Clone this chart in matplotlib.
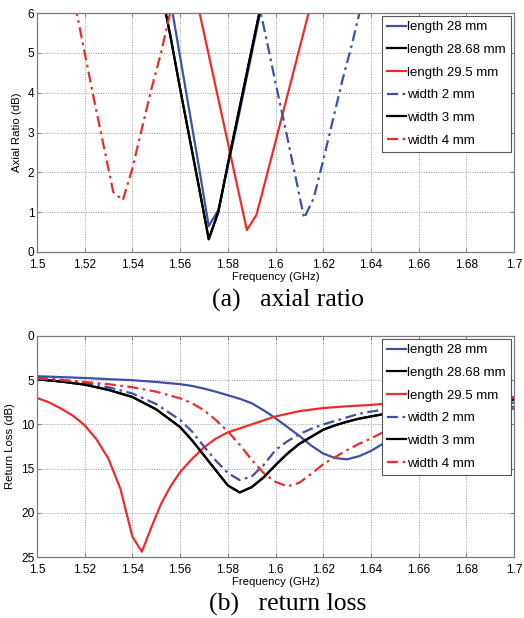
import matplotlib
matplotlib.use("Agg")
import matplotlib.pyplot as plt

# ---------------- data: axial ratio ----------------
ar_f_len28 = [1.556, 1.560, 1.564, 1.568, 1.572, 1.576, 1.580, 1.584, 1.588, 1.592, 1.596]
ar_len28 = [6.3, 4.9, 3.5, 2.1, 0.65, 1.05, 2.15, 3.25, 4.4, 5.55, 6.7]

ar_f_len2868 = [1.552, 1.556, 1.560, 1.564, 1.568, 1.572, 1.576, 1.580, 1.584, 1.588, 1.592, 1.596]
ar_len2868 = [6.6, 5.4, 4.1, 2.85, 1.6, 0.32, 1.0, 2.2, 3.35, 4.5, 5.65, 6.8]

ar_f_len295 = [1.568, 1.572, 1.576, 1.580, 1.584, 1.588, 1.592, 1.596, 1.600, 1.604, 1.608, 1.612, 1.616]
ar_len295 = [6.05, 4.95, 3.85, 2.75, 1.65, 0.55, 0.93, 1.84, 2.77, 3.7, 4.63, 5.56, 6.5]

ar_f_w2 = [1.592, 1.596, 1.600, 1.604, 1.608, 1.612, 1.616, 1.620, 1.624, 1.628, 1.632, 1.636]
ar_w2 = [6.5, 5.4, 4.25, 3.15, 2.0, 0.85, 1.35, 2.3, 3.3, 4.3, 5.2, 6.2]

ar_f_w3 = ar_f_len2868
ar_w3 = ar_len2868

ar_f_w4 = [1.516, 1.520, 1.524, 1.528, 1.532, 1.536, 1.540, 1.544, 1.548, 1.552, 1.556]
ar_w4 = [6.2, 5.0, 3.8, 2.65, 1.5, 1.3, 2.1, 3.1, 4.1, 5.0, 6.05]

# ---------------- data: return loss ----------------
rl_f = [1.50, 1.51, 1.52, 1.53, 1.54, 1.55, 1.56, 1.565, 1.57, 1.575, 1.58, 1.585,
        1.59, 1.595, 1.60, 1.605, 1.61, 1.615, 1.62, 1.625, 1.63, 1.635, 1.64, 1.645,
        1.65, 1.66, 1.67, 1.68, 1.69, 1.70]
rl_len28 = [4.55, 4.65, 4.75, 4.88, 5.0, 5.2, 5.45, 5.65, 5.95, 6.3, 6.7, 7.1,
            7.6, 8.4, 9.3, 10.3, 11.3, 12.4, 13.3, 13.8, 13.95, 13.6, 13.0, 12.2,
            11.5, 10.3, 9.5, 8.9, 8.5, 8.2]
rl_len2868 = [4.9, 5.15, 5.5, 6.1, 6.9, 8.3, 10.3, 11.8, 13.5, 15.2, 16.9, 17.7,
              17.1, 16.0, 14.6, 13.3, 12.2, 11.4, 10.6, 10.1, 9.7, 9.35, 9.1, 8.85,
              8.6, 8.2, 7.9, 7.6, 7.4, 7.2]
rl_w2 = [4.7, 4.95, 5.3, 5.8, 6.5, 7.7, 9.5, 10.8, 12.5, 14.1, 15.5, 16.3,
         15.9, 14.6, 12.9, 11.9, 11.1, 10.5, 10.0, 9.6, 9.2, 8.8, 8.55, 8.35,
         8.2, 7.95, 7.8, 7.7, 7.6, 7.55]
rl_w3 = rl_len2868
rl_w4 = [4.8, 5.0, 5.2, 5.45, 5.8, 6.3, 7.05, 7.6, 8.4, 9.5, 10.8, 12.3,
         14.0, 15.5, 16.5, 17.0, 16.6, 15.6, 14.5, 13.7, 12.9, 12.2, 11.6, 10.9,
         10.3, 9.4, 8.8, 8.45, 8.2, 8.0]

rl_f_len295 = [1.50, 1.505, 1.51, 1.515, 1.52, 1.525, 1.53, 1.535, 1.54, 1.544,
               1.548, 1.552, 1.556, 1.56, 1.565, 1.57, 1.575, 1.58, 1.59, 1.60,
               1.61, 1.62, 1.63, 1.64, 1.65, 1.66, 1.67, 1.68, 1.69, 1.70]
rl_len295 = [7.0, 7.5, 8.2, 9.0, 10.1, 11.7, 13.9, 17.3, 22.7, 24.4,
             21.6, 19.0, 17.0, 15.4, 13.9, 12.6, 11.6, 10.9, 10.0, 9.1,
             8.5, 8.15, 7.95, 7.8, 7.55, 7.4, 7.25, 7.1, 7.0, 6.9]

labels = ["length 28 mm", "length 28.68 mm", "length 29.5 mm",
          "width 2 mm", "width 3 mm", "width 4 mm"]
x_ticks = [1.5, 1.52, 1.54, 1.56, 1.58, 1.6, 1.62, 1.64, 1.66, 1.68, 1.7]
x_ticklabels = ["1.5", "1.52", "1.54", "1.56", "1.58", "1.6", "1.62", "1.64", "1.66", "1.68", "1.7"]

# ---------------- style ----------------
BLUE = "#3d50a6"
RED = "#ee2b2b"
BLACK = "#000000"
DASHDOT = (0, (5, 2, 1.2, 2))
LW = 1.6

plt.rcParams["font.family"] = ["Liberation Sans", "DejaVu Sans"]

fig = plt.figure(figsize=(5.24, 6.18), dpi=100)
W, H = 524, 618


def ax_rect(l, t, r, b):
    return [l / W, 1 - b / H, (r - l) / W, (b - t) / H]


ax1 = fig.add_axes(ax_rect(37, 13, 514, 252))
ax2 = fig.add_axes(ax_rect(37, 336, 514, 557))


def style(ax):
    ax.set_xlim(1.5, 1.7)
    ax.set_xticks(x_ticks)
    ax.set_xticklabels(x_ticklabels)
    ax.grid(True, linestyle=(0, (1, 1.5)), color="#9a9a9a", linewidth=0.7)
    ax.set_axisbelow(True)
    for s in ax.spines.values():
        s.set_color("#7a7a7a")
        s.set_linewidth(0.9)
    ax.tick_params(direction="in", length=3, width=0.7, color="#7a7a7a",
                   labelsize=8.6, top=True, right=True)
    ax.tick_params(axis="x", pad=5)
    ax.tick_params(axis="y", pad=2)
    ax.set_xlabel("Frequency (GHz)", fontsize=8.2, labelpad=0.5)


# ---- top: axial ratio ----
ax1.plot(ar_f_len28, ar_len28, color=BLUE, lw=LW, label=labels[0])
ax1.plot(ar_f_len2868, ar_len2868, color=BLACK, lw=LW, label=labels[1])
ax1.plot(ar_f_len295, ar_len295, color=RED, lw=LW, label=labels[2])
ax1.plot(ar_f_w2, ar_w2, color=BLUE, lw=LW, ls=DASHDOT, label=labels[3])
ax1.plot(ar_f_w3, ar_w3, color=BLACK, lw=LW, label=labels[4])
ax1.plot(ar_f_w4, ar_w4, color=RED, lw=LW, ls=DASHDOT, label=labels[5])
ax1.set_ylim(0, 6)
ax1.set_yticks([0, 1, 2, 3, 4, 5, 6])
style(ax1)
ax1.set_ylabel("Axial Ratio (dB)", fontsize=8.2, labelpad=4)

# ---- bottom: return loss ----
ax2.plot(rl_f, rl_len28, color=BLUE, lw=LW, label=labels[0])
ax2.plot(rl_f, rl_len2868, color=BLACK, lw=LW, label=labels[1])
ax2.plot(rl_f_len295, rl_len295, color=RED, lw=LW, label=labels[2])
ax2.plot(rl_f, rl_w2, color=BLUE, lw=LW, ls=DASHDOT, label=labels[3])
ax2.plot(rl_f, rl_w3, color=BLACK, lw=LW, label=labels[4])
ax2.plot(rl_f, rl_w4, color=RED, lw=LW, ls=DASHDOT, label=labels[5])
ax2.set_ylim(25, 0)
ax2.set_yticks([0, 5, 10, 15, 20, 25])
style(ax2)
ax2.set_ylabel("Return Loss (dB)", fontsize=8.2, labelpad=4)

for ax in (ax1, ax2):
    leg = ax.legend(loc="upper right", fontsize=9.5, frameon=True, fancybox=False,
                    borderaxespad=0.2, labelspacing=0.79, handlelength=1.4,
                    handletextpad=0.1, borderpad=0.42)
    leg.get_frame().set_edgecolor("#555555")
    leg.get_frame().set_linewidth(0.8)
    leg.get_frame().set_alpha(1)

fig.text(288 / W, 1 - 300 / H, "(a)   axial ratio", ha="center", va="center",
         fontsize=18.5, family="Liberation Serif")
fig.text(288 / W, 1 - 604 / H, "(b)   return loss", ha="center", va="center",
         fontsize=18.5, family="Liberation Serif")

fig.savefig("out.png", dpi=100)
